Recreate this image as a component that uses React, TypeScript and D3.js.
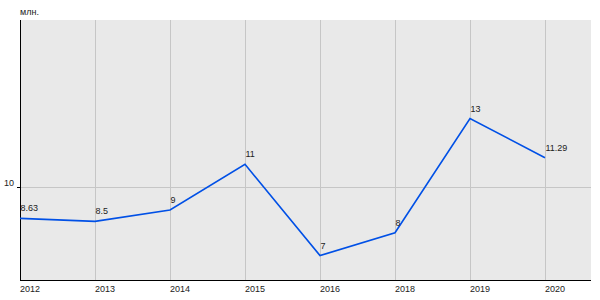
import React from "react";
import * as d3 from "d3";

const years = ["2012", "2013", "2014", "2015", "2016", "2018", "2019", "2020"];
const values = [8.63, 8.5, 9, 11, 7, 8, 13, 11.29];
const valueLabels = ["8.63", "8.5", "9", "11", "7", "8", "13", "11.29"];
const yTicks = [10];
const unitLabel = "млн.";

export default function App() {
  const W = 600;
  const H = 300;
  const left = 20;
  const right = 591;
  const top = 20;
  const bottom = 280.5;
  const step = 75;

  const x = d3
    .scalePoint<string>()
    .domain(years)
    .range([left, left + step * (years.length - 1)]);
  const y = d3.scaleLinear().domain([5.91, 17.32]).range([bottom, top]);

  const line = d3
    .line<number>()
    .x((_, i) => x(years[i]) as number)
    .y((d) => y(d));

  const font = "'Liberation Sans', Arial, sans-serif";

  return (
    <svg
      width={W}
      height={H}
      style={{ position: "absolute", left: 0, top: 0, display: "block" }}
      fontFamily={font}
    >
      <rect x={0} y={0} width={W} height={H} fill="#ffffff" />
      <rect x={left} y={top} width={right - left} height={bottom - top} fill="#e9e9e9" />
      {years.slice(1).map((yr) => (
        <line
          key={yr}
          x1={(x(yr) as number) + 0.5}
          x2={(x(yr) as number) + 0.5}
          y1={top}
          y2={bottom}
          stroke="#c6c6c6"
          strokeWidth={1}
        />
      ))}
      {yTicks.map((t) => (
        <g key={t}>
          <line
            x1={left}
            x2={right}
            y1={Math.round(y(t)) + 0.5}
            y2={Math.round(y(t)) + 0.5}
            stroke="#c6c6c6"
            strokeWidth={1}
          />
          <line
            x1={left - 3}
            x2={left}
            y1={Math.round(y(t)) + 0.5}
            y2={Math.round(y(t)) + 0.5}
            stroke="#000"
            strokeWidth={1}
          />
          <text x={left - 6} y={y(t) - 1} textAnchor="end" fontSize={9} fill="#222">
            {t}
          </text>
        </g>
      ))}
      <line x1={left + 0.5} x2={left + 0.5} y1={top} y2={bottom + 0.5} stroke="#000" strokeWidth={1} />
      <line x1={left} x2={right} y1={bottom} y2={bottom} stroke="#000" strokeWidth={1} />
      {years.map((yr) => (
        <text key={yr} x={x(yr) as number} y={292} fontSize={9} fill="#222">
          {yr}
        </text>
      ))}
      <text x={left} y={15} fontSize={9} fill="#222">
        {unitLabel}
      </text>
      <path d={line(values) || ""} fill="none" stroke="#0050e6" strokeWidth={1.6} />
      {values.map((v, i) => (
        <text
          key={i}
          x={(x(years[i]) as number) + 0.5}
          y={y(v) - 7}
          fontSize={9}
          fill="#222"
        >
          {valueLabels[i]}
        </text>
      ))}
    </svg>
  );
}
